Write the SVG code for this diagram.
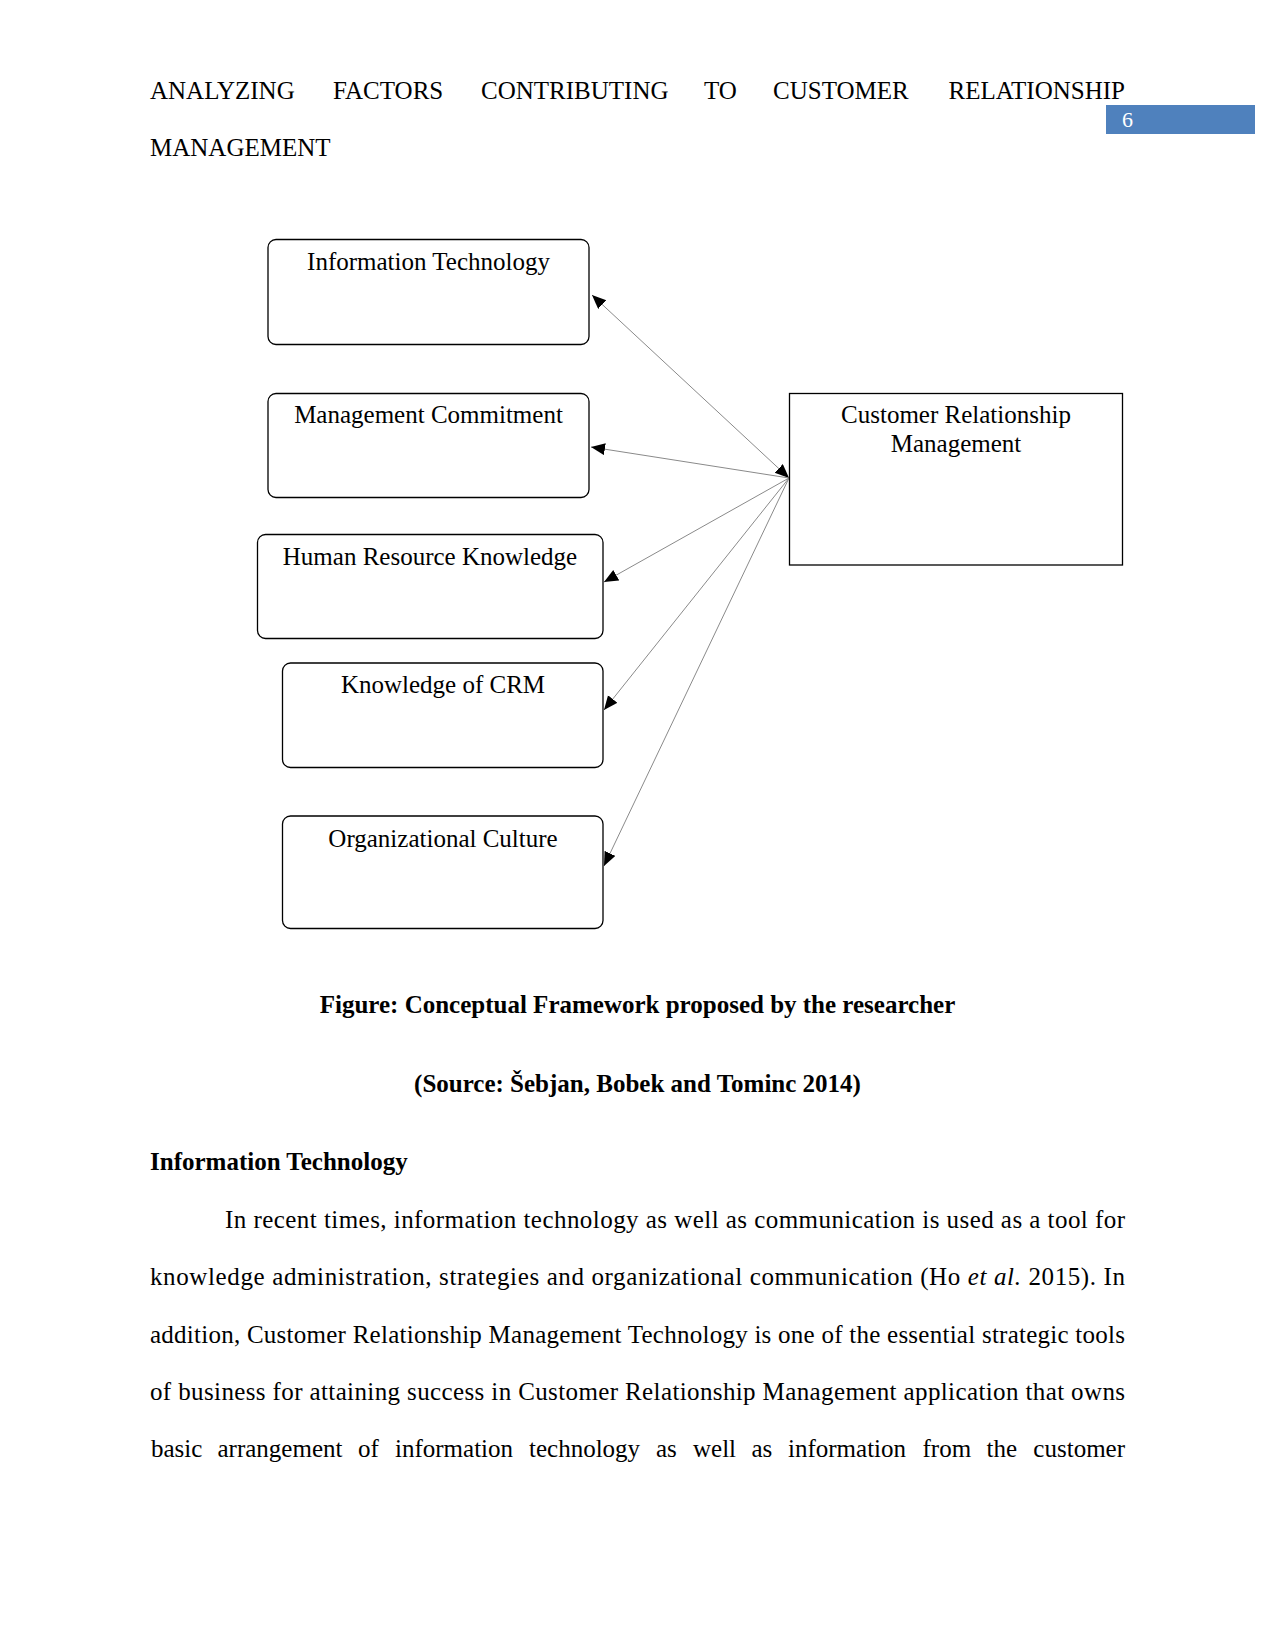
<svg xmlns="http://www.w3.org/2000/svg" width="1275" height="1650" viewBox="0 0 1275 1650">
<style>
text{font-family:"Liberation Serif","Times New Roman",serif;font-size:25px;fill:#000}
.b{font-weight:bold}
.box{fill:#fff;stroke:#000;stroke-width:1.3}
.con{stroke:#8a8a8a;stroke-width:1;fill:none}
</style>
<defs>
<marker id="ah" markerUnits="userSpaceOnUse" markerWidth="15" markerHeight="13" refX="14" refY="6" orient="auto-start-reverse" viewBox="0 0 15 13">
<path d="M0,0 L14,6 L0,12 z" fill="#000"/>
</marker>
</defs>
<rect width="1275" height="1650" fill="#fff"/>
<g id="header">
<text x="150" y="99">ANALYZING</text>
<text x="333" y="99">FACTORS</text>
<text x="481" y="99">CONTRIBUTING</text>
<text x="704" y="99">TO</text>
<text x="773" y="99">CUSTOMER</text>
<text x="1125" y="99" text-anchor="end">RELATIONSHIP</text>
<text x="150" y="156">MANAGEMENT</text>
<rect x="1106" y="105" width="149" height="29" fill="#4f81bd"/>
<text x="1122" y="127" style="font-size:22px;fill:#fff">6</text>
</g>
<g id="connectors">
<path class="con" d="M789,478 L592,295" marker-start="url(#ah)" marker-end="url(#ah)"/>
<path class="con" d="M789,478 L591,447" marker-end="url(#ah)"/>
<path class="con" d="M789,478 L604,582" marker-end="url(#ah)"/>
<path class="con" d="M789,478 L604,710" marker-end="url(#ah)"/>
<path class="con" d="M789,478 L604,866" marker-end="url(#ah)"/>
</g>
<g id="node-it">
<rect class="box" x="268" y="239.5" width="321" height="105" rx="8"/>
<text x="428.5" y="270" text-anchor="middle">Information Technology</text>
</g>
<g id="node-mc">
<rect class="box" x="268" y="393.5" width="321" height="104" rx="8"/>
<text x="428.5" y="423" text-anchor="middle">Management Commitment</text>
</g>
<g id="node-hrk">
<rect class="box" x="257.5" y="534.5" width="345.5" height="104" rx="8"/>
<text x="430" y="565" text-anchor="middle">Human Resource Knowledge</text>
</g>
<g id="node-kcrm">
<rect class="box" x="282.5" y="663" width="320.5" height="104.5" rx="8"/>
<text x="443" y="692.5" text-anchor="middle">Knowledge of CRM</text>
</g>
<g id="node-oc">
<rect class="box" x="282.5" y="816" width="320.5" height="112.5" rx="8"/>
<text x="443" y="847" text-anchor="middle">Organizational Culture</text>
</g>
<g id="node-crm">
<rect class="box" x="789.5" y="393.5" width="333" height="171.5"/>
<text x="956" y="423" text-anchor="middle">Customer Relationship</text>
<text x="956" y="452" text-anchor="middle">Management</text>
</g>
<g id="body">
<text class="b" x="637.5" y="1013" text-anchor="middle">Figure: Conceptual Framework proposed by the researcher</text>
<text class="b" x="637.5" y="1092" text-anchor="middle">(Source: Šebjan, Bobek and Tominc 2014)</text>
<text class="b" x="150" y="1170">Information Technology</text>
<text x="225" y="1227.5" textLength="900" lengthAdjust="spacing">In recent times, information technology as well as communication is used as a tool for</text>
<text x="150" y="1285" textLength="975" lengthAdjust="spacing">knowledge administration, strategies and organizational communication (Ho <tspan font-style="italic">et al.</tspan> 2015). In</text>
<text x="150" y="1342.5" textLength="975" lengthAdjust="spacing">addition, Customer Relationship Management Technology is one of the essential strategic tools</text>
<text x="150" y="1400" textLength="975" lengthAdjust="spacing">of business for attaining success in Customer Relationship Management application that owns</text>
<g>
<text x="151" y="1457">basic</text>
<text x="217.5" y="1457">arrangement</text>
<text x="358" y="1457">of</text>
<text x="395" y="1457">information</text>
<text x="529" y="1457">technology</text>
<text x="656" y="1457">as</text>
<text x="693" y="1457">well</text>
<text x="751.5" y="1457">as</text>
<text x="788" y="1457">information</text>
<text x="922.5" y="1457">from</text>
<text x="986.5" y="1457">the</text>
<text x="1125" y="1457" text-anchor="end">customer</text>
</g>
</g>
</svg>
